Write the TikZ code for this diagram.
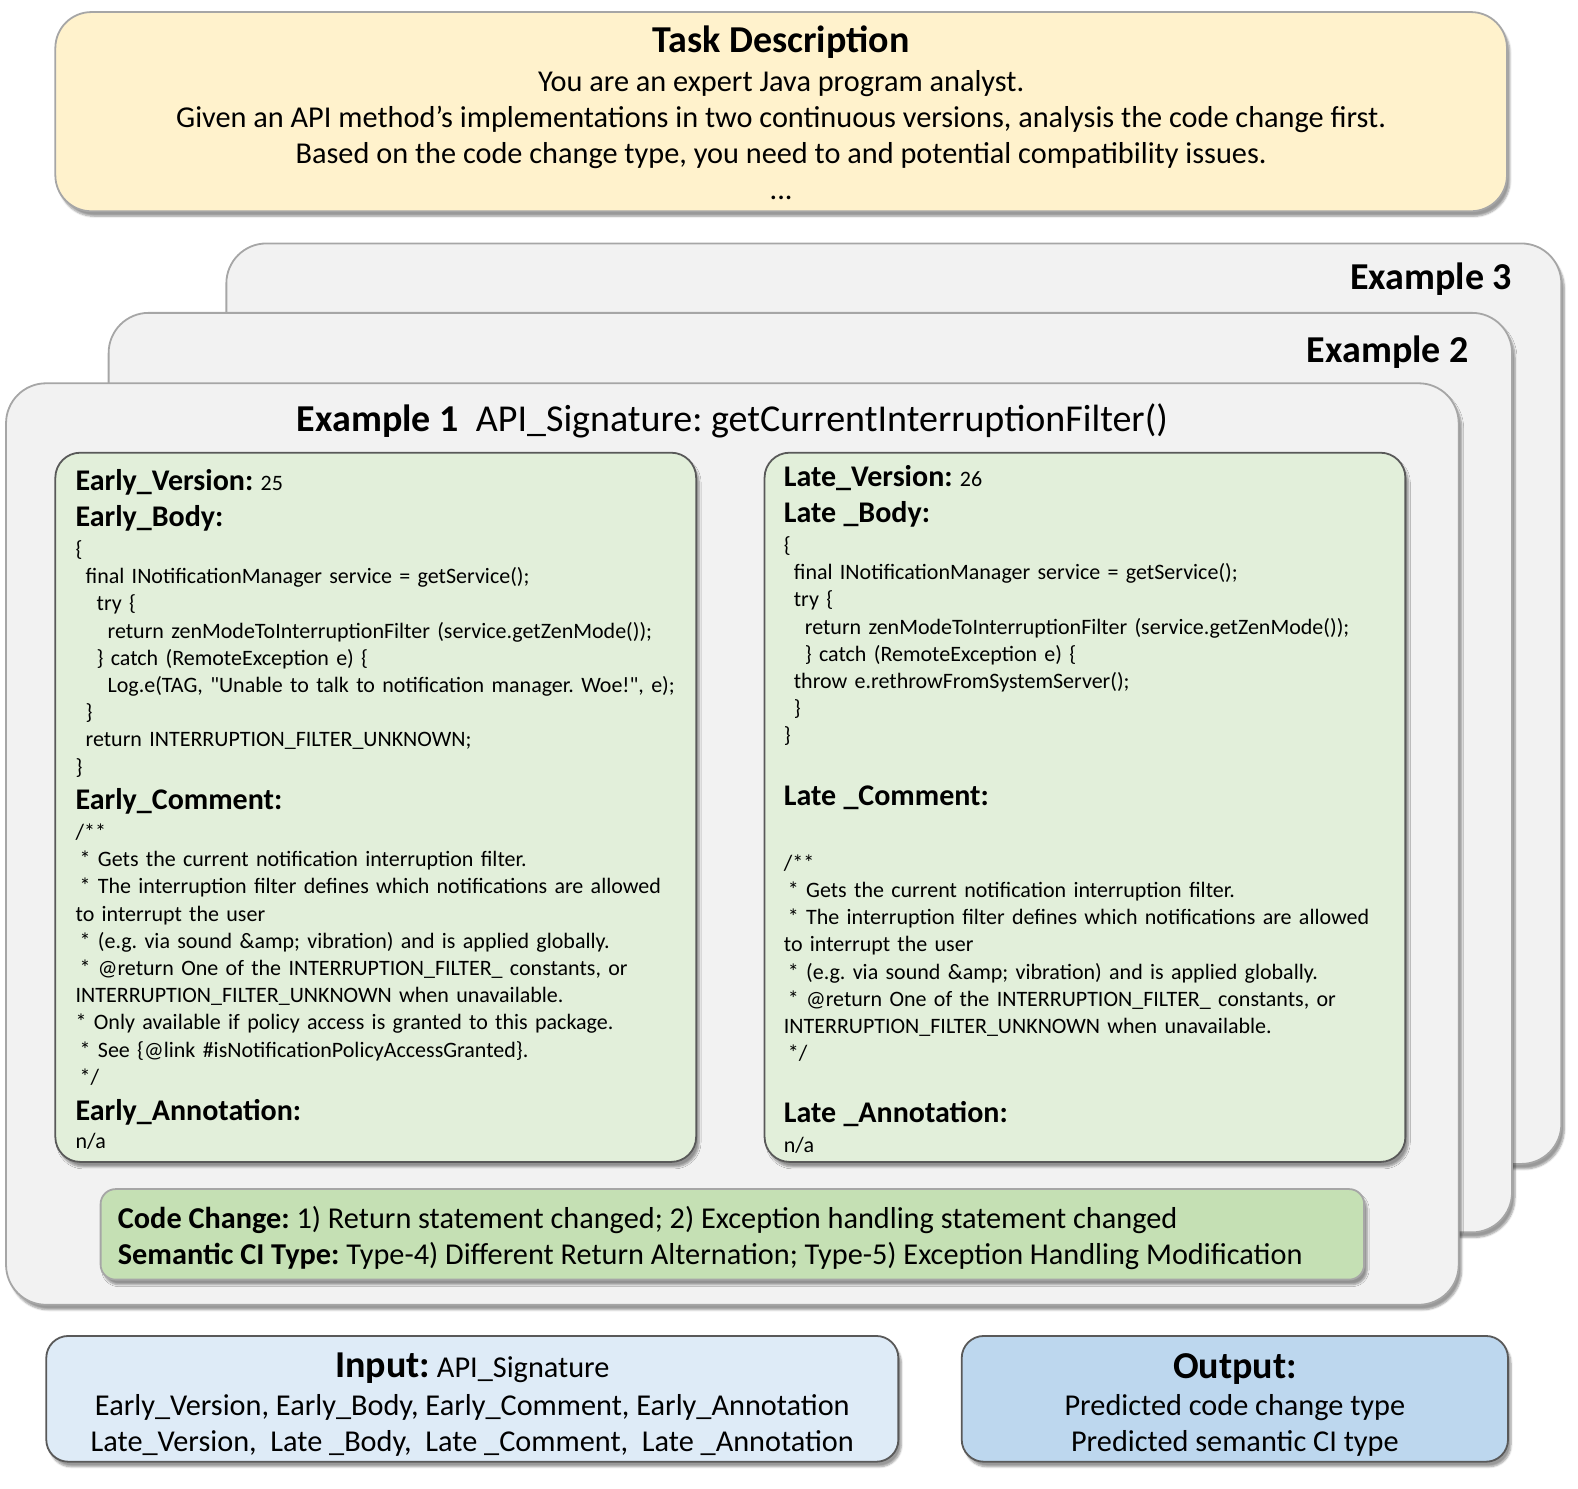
\documentclass[tikz,border=0pt]{standalone}
\usepackage{fontspec}
\setmainfont{Carlito}[Ligatures=TeXOff]
\usetikzlibrary{positioning,fit,shadows.blur}

\definecolor{taskfill}{HTML}{FFF2CC}
\definecolor{exfill}{HTML}{F2F2F2}
\definecolor{bodyfill}{HTML}{E2EFDA}
\definecolor{changefill}{HTML}{C5E0B4}
\definecolor{infill}{HTML}{DEEBF7}
\definecolor{outfill}{HTML}{BDD7EE}
\definecolor{lightedge}{HTML}{A6A6A6}
\definecolor{darkedge}{HTML}{595959}

\newcommand{\hd}[1]{{\fontsize{30}{27}\selectfont\bfseries #1}}
\newcommand{\ind}[1]{\hspace*{#1pt}}
\frenchspacing

\begin{document}
\begin{tikzpicture}[x=1.006pt,y=-1.006pt,
    box/.style={draw, line width=1.8pt, inner sep=0pt,
      blur shadow={shadow xshift=3pt, shadow yshift=-5pt, shadow blur steps=6}},
    exbox/.style={box, draw=lightedge, fill=exfill, rounded corners=40pt},
    bodybox/.style={box, draw=darkedge, fill=bodyfill, rounded corners=25pt},
    codetext/.style={anchor=north west, inner sep=0pt, align=left, text width=615pt,
      font=\fontsize{22}{27.2}\selectfont},
    plaintext/.style={inner sep=0pt, font=\fontsize{30.3}{36.2}\selectfont},
    extitle/.style={inner sep=0pt, font=\fontsize{38}{40}\selectfont\bfseries}]
  \useasboundingbox (0,0) rectangle (1568.6,1480.1);

  %task description
  \node[box, draw=lightedge, fill=taskfill, rounded corners=36pt,
    fit={(55,12) (1498,210)}] (task) {};
  \node[plaintext, anchor=north, align=center]
    (tasktext) at ([yshift=-14pt]task.north)
    {{\fontsize{38}{36}\selectfont\bfseries Task Description}\\[3pt]
     You are an expert Java program analyst.\\
     Given an API method’s implementations in two continuous versions, analysis the code change first.\\
     Based on the code change type, you need to and potential compatibility issues.\\
     ...};

  %stacked examples
  \node[exbox, fit={(225,242) (1552,1157)}] (ex3) {};
  \node[extitle, anchor=base east] (ex3lbl) at ([xshift=-50pt,yshift=-47pt]ex3.north east) {Example 3};
  \node[exbox, fit={(108,311) (1503,1225)}] (ex2) {};
  \node[extitle, anchor=base east] (ex2lbl) at ([xshift=-44pt,yshift=-51pt]ex2.north east) {Example 2};
  \node[exbox, fit={(6,381) (1450,1297)}] (ex1) {};
  \node[extitle, anchor=base] (ex1lbl) at ([yshift=-49pt]ex1.north)
    {Example 1\ \ {\mdseries API\_Signature: getCurrentInterruptionFilter()}};

  %early version
  \node[bodybox, fit={(55,450) (692,1155)}] (early) {};
  \node[codetext] (earlytext) at ([xshift=21pt,yshift=-17pt]early.north west)
    {\hd{Early\_Version:} 25\\[9pt]
     \hd{Early\_Body:}\\[3pt]
     \{\\
     \ind{10}final INotificationManager service = getService();\\
     \ind{21}try \{\\
     \ind{32}return zenModeToInterruptionFilter (service.getZenMode());\\
     \ind{21}\} catch (RemoteException e) \{\\
     \ind{32}Log.e(TAG, "Unable to talk to notification manager. Woe!", e);\\
     \ind{10}\}\\
     \ind{10}return INTERRUPTION\_FILTER\_UNKNOWN;\\
     \}\\[8pt]
     \hd{Early\_Comment:}\\[3pt]
     /**\\
     \ind{4}* Gets the current notification interruption filter.\\
     \ind{4}* The interruption filter defines which notifications are allowed\\
     to interrupt the user\\
     \ind{4}* (e.g. via sound \&amp; vibration) and is applied globally.\\
     \ind{4}* @return One of the INTERRUPTION\_FILTER\_ constants, or\\
     INTERRUPTION\_FILTER\_UNKNOWN when unavailable.\\
     {*} Only available if policy access is granted to this package.\\
     \ind{4}* See \{@link \#isNotificationPolicyAccessGranted\}.\\
     \ind{4}*/\\[9pt]
     \hd{Early\_Annotation:}\\[1pt]
     n/a};

  %late version
  \node[bodybox, fit={(760,450) (1397,1155)}] (late) {};
  \node[codetext] (latetext) at ([xshift=20pt,yshift=-13pt]late.north west)
    {\hd{Late\_Version:} 26\\[9pt]
     \hd{Late \_Body:}\\[3pt]
     \{\\
     \ind{10}final INotificationManager service = getService();\\
     \ind{10}try \{\\
     \ind{21}return zenModeToInterruptionFilter (service.getZenMode());\\
     \ind{21}\} catch (RemoteException e) \{\\
     \ind{10}throw e.rethrowFromSystemServer();\\
     \ind{10}\}\\
     \}\\[35pt]
     \hd{Late \_Comment:}\\[38pt]
     /**\\
     \ind{4}* Gets the current notification interruption filter.\\
     \ind{4}* The interruption filter defines which notifications are allowed\\
     to interrupt the user\\
     \ind{4}* (e.g. via sound \&amp; vibration) and is applied globally.\\
     \ind{4}* @return One of the INTERRUPTION\_FILTER\_ constants, or\\
     INTERRUPTION\_FILTER\_UNKNOWN when unavailable.\\
     \ind{4}*/\\[35pt]
     \hd{Late \_Annotation:}\\[2pt]
     n/a};

  %code change
  \node[box, draw=lightedge, fill=changefill, rounded corners=15pt,
    fit={(100,1182) (1356,1272)}] (change) {};
  \node[plaintext, anchor=north west, align=left]
    (changetext) at ([xshift=18pt,yshift=-18pt]change.north west)
    {\textbf{Code Change:} 1) Return statement changed; 2) Exception handling statement changed\\
     \textbf{Semantic CI Type:} Type-4) Different Return Alternation; Type-5) Exception Handling Modification};

  %input and output
  \node[box, draw=darkedge, fill=infill, rounded corners=22pt,
    fit={(46,1328) (893,1453)}] (input) {};
  \node[plaintext, anchor=north, align=center]
    (inputtext) at ([yshift=-18pt]input.north)
    {{\fontsize{38}{36}\selectfont\bfseries Input:} API\_Signature\\[1pt]
     Early\_Version, Early\_Body, Early\_Comment, Early\_Annotation\\
     Late\_Version,\ \ Late \_Body,\ \ Late \_Comment,\ \ Late \_Annotation};
  \node[box, draw=darkedge, fill=outfill, rounded corners=22pt,
    fit={(956,1328) (1499,1453)}] (output) {};
  \node[plaintext, anchor=north, align=center]
    (outputtext) at ([yshift=-18pt]output.north)
    {{\fontsize{38}{36}\selectfont\bfseries Output:}\\[1pt]
     Predicted code change type\\
     Predicted semantic CI type};
\end{tikzpicture}
\end{document}
